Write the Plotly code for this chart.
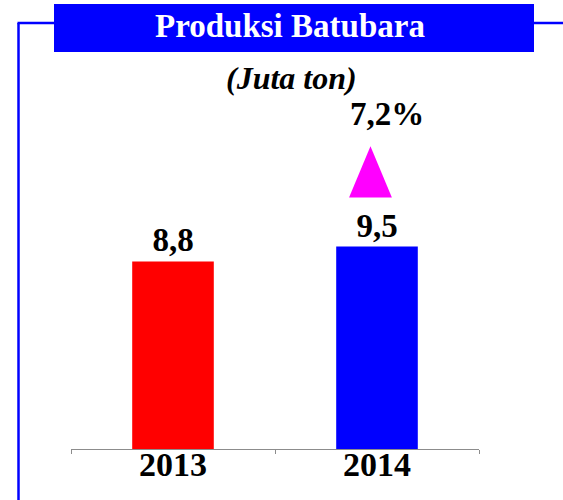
import plotly.graph_objects as go

# ---- data ----
years = ["2013", "2014"]
production = [8.8, 9.5]          # juta ton
bar_colors = ["#FF0000", "#0000FF"]
growth_pct = 7.2                 # % growth 2013 -> 2014
title_text = "Produksi Batubara"
unit_text = "(Juta ton)"

# ---- layout geometry (pixels) ----
W, H = 563, 500
L, R, T, B = 71, 84, 108, 51
PW, PH = W - L - R, H - T - B
Y_MAX = 16.0
FONT = "Liberation Serif"


def xp(px):
    return (px - L) / PW


def yp(py):
    return (H - B - py) / PH


positions = list(range(len(years)))

fig = go.Figure()

fig.add_trace(go.Bar(
    x=positions, y=production,
    marker=dict(color=bar_colors, line=dict(width=0)),
    width=0.4,
    text=production,
    texttemplate="%{y:.1f}",
    textposition="outside",
    textfont=dict(family=FONT, size=33, color="black", weight="bold"),
    cliponaxis=False,
    hoverinfo="skip",
))

# growth triangle above the 2014 bar, positioned relative to its value
top_val = production[-1]
xc = positions[-1] - 0.032
base_y = top_val + 2.3
apex_y = top_val + 4.7
half_w = 0.105
fig.add_trace(go.Scatter(
    x=[xc - half_w, xc + half_w, xc, xc - half_w],
    y=[base_y, base_y, apex_y, base_y],
    mode="lines", fill="toself",
    fillcolor="#FF00FF", line=dict(width=0, color="#FF00FF"),
    hoverinfo="skip", showlegend=False, cliponaxis=False,
))

# an invisible trace so the tick-mark axis is drawn
fig.add_trace(go.Scatter(x=[positions[0]], y=[0], xaxis="x2", mode="markers",
                         marker=dict(opacity=0), hoverinfo="skip", showlegend=False))

shapes = [
    # blue title box
    dict(type="rect", xref="paper", yref="paper",
         x0=xp(54), x1=xp(534), y0=yp(52), y1=yp(4),
         fillcolor="#0000FF", line=dict(width=0), layer="above"),
    # left frame
    dict(type="line", xref="paper", yref="paper",
         x0=xp(18.5), x1=xp(18.5), y0=yp(502), y1=yp(23),
         line=dict(color="#0000FF", width=2.5)),
    dict(type="line", xref="paper", yref="paper",
         x0=xp(17.5), x1=xp(54), y0=yp(23), y1=yp(23),
         line=dict(color="#0000FF", width=2.5)),
    # right frame
    dict(type="line", xref="paper", yref="paper",
         x0=xp(534), x1=xp(565), y0=yp(23), y1=yp(23),
         line=dict(color="#0000FF", width=2.5)),
]

annotations = [
    dict(text=title_text, xref="paper", yref="paper",
         x=xp(290), y=yp(26), xanchor="center", yanchor="middle",
         showarrow=False,
         font=dict(family=FONT, size=33, color="white", weight="bold")),
    dict(text="<i>" + unit_text + "</i>", xref="paper", yref="paper",
         x=xp(291), y=yp(78), xanchor="center", yanchor="middle",
         showarrow=False,
         font=dict(family=FONT, size=32, color="black", weight="bold")),
    dict(text=f"{growth_pct:.1f}%".replace(".", ","), xref="paper", yref="paper",
         x=xp(387), y=yp(114), xanchor="center", yanchor="middle",
         showarrow=False,
         font=dict(family=FONT, size=33, color="black", weight="bold")),
]

fig.update_layout(
    width=W, height=H,
    margin=dict(l=L, r=R, t=T, b=B, pad=0, autoexpand=False),
    paper_bgcolor="white", plot_bgcolor="white",
    showlegend=False,
    separators=",.",
    shapes=shapes,
    annotations=annotations,
    xaxis=dict(
        range=[-0.5, len(years) - 0.5],
        tickmode="array", tickvals=positions, ticktext=years,
        showgrid=False, zeroline=False,
        showline=True, linecolor="#8C8C8C", linewidth=1,
        ticks="", automargin=False, ticklabelstandoff=-15,
        tickfont=dict(family=FONT, size=34, color="black", weight="bold"),
        fixedrange=True,
    ),
    xaxis2=dict(
        overlaying="x", anchor="y", range=[-0.5, len(years) - 0.5],
        tickmode="array",
        tickvals=[p - 0.5 for p in positions] + [positions[-1] + 0.5],
        showticklabels=False, ticks="outside", ticklen=4,
        tickcolor="#8C8C8C", tickwidth=1, side="bottom", automargin=False,
        showgrid=False, zeroline=False, showline=False, fixedrange=True,
    ),
    yaxis=dict(
        range=[0, Y_MAX], visible=False, showgrid=False, zeroline=False,
        fixedrange=True, automargin=False,
    ),
)

fig.write_html("out.html", config={"displayModeBar": False},
               post_script="document.body.style.margin='0';")
